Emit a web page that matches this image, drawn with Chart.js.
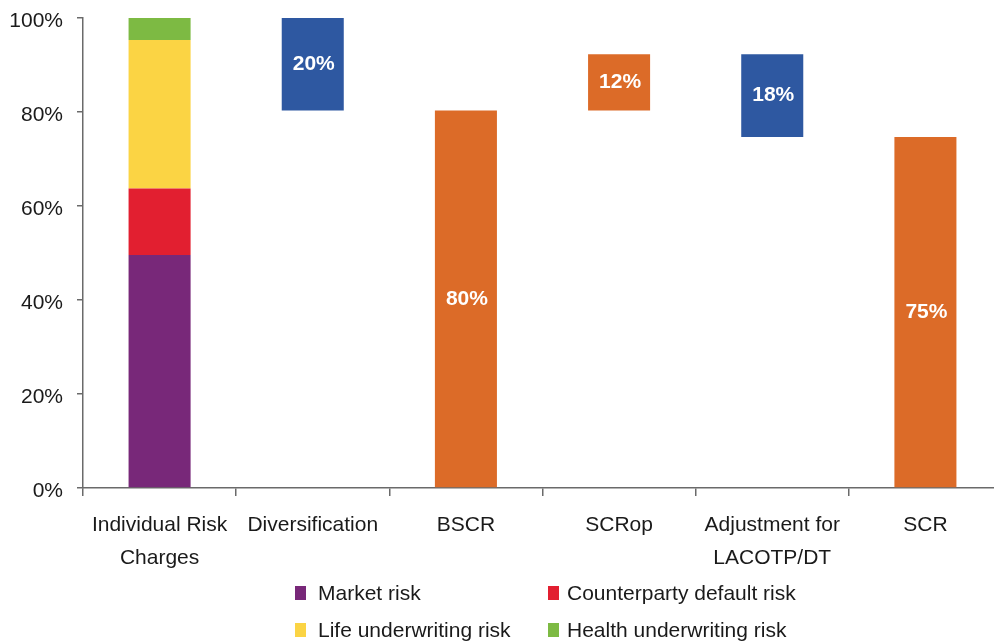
<!DOCTYPE html>
<html>
<head>
<meta charset="utf-8">
<script src="https://cdn.jsdelivr.net/npm/chart.js@4/dist/chart.umd.min.js"></script>
<style>
  html, body { margin: 0; padding: 0; background: #ffffff; }
  #wrap { position: relative; width: 994px; height: 641px; overflow: hidden; }
  #chartBox { position: absolute; left: 0; top: 0; width: 1003px; height: 641px; }
  #legend { position: absolute; left: 0; top: 0; width: 994px; height: 641px; pointer-events: none;
            font-family: "Liberation Sans", Arial, sans-serif; font-size: 21px; color: #1a1a1a; }
  .li { position: absolute; white-space: nowrap; height: 24px; line-height: 24px; }
  .sw { position: absolute; width: 11px; height: 14px; top: 5px; left: 0; }
  .tx { position: absolute; top: 0; }
</style>
</head>
<body>
<div id="wrap">
  <div id="chartBox"><canvas id="c" width="1003" height="641"></canvas></div>
  <div id="legend"></div>
</div>
<script>
// ---- data ----
const categories = [["Individual Risk", "Charges"], "Diversification", "BSCR", "SCRop", ["Adjustment for", "LACOTP/DT"], "SCR"];
const riskLabels = ["Market risk", "Counterparty default risk", "Life underwriting risk", "Health underwriting risk"];
const riskValues = [49.6, 14.1, 31.6, 4.7];           // % of individual risk charges
const riskColors = ["#782879", "#E21F30", "#FBD444", "#7DBA43"];
const stepChanges = [null, -19.7, null, 12.0, -17.6, null];   // waterfall movements
const subtotals = [null, null, 80.3, null, null, 74.7];        // totals drawn from 0
const yTicks = [0, 20, 40, 60, 80, 100];

const blue = "#2E58A1";
const orange = "#DC6B28";

// ---- build floating ranges ----
const riskData = [];
let acc = 0;
riskValues.forEach((v, i) => {
  const arr = categories.map(() => null);
  arr[0] = [acc, acc + v];
  acc += v;
  riskData.push(arr);
});
const blueData = categories.map(() => null);
const orangeData = categories.map(() => null);
const labelMap = {};
let running = acc;
for (let i = 1; i < categories.length; i++) {
  if (subtotals[i] !== null) {
    orangeData[i] = [0, subtotals[i]];
    running = subtotals[i];
    labelMap[i] = Math.round(subtotals[i]) + "%";
  } else if (stepChanges[i] !== null) {
    const d = stepChanges[i];
    const rng = d < 0 ? [running + d, running] : [running, running + d];
    if (d < 0) blueData[i] = rng; else orangeData[i] = rng;
    running += d;
    labelMap[i] = Math.round(Math.abs(d)) + "%";
  }
}

const datasets = riskLabels.map((l, i) => ({
  label: l, data: riskData[i], backgroundColor: riskColors[i], isRisk: true
}));
datasets.push({ label: "decrease", data: blueData, backgroundColor: blue, waterfall: true });
datasets.push({ label: "increase", data: orangeData, backgroundColor: orange, waterfall: true });
datasets.forEach(d => { d.barPercentage = 0.405; d.categoryPercentage = 1.0; d.borderWidth = 0; });

// ---- value labels plugin ----
const valueLabels = {
  id: "valueLabels",
  afterDatasetsDraw(chart) {
    const ctx = chart.ctx;
    ctx.save();
    ctx.font = "bold 21px 'Liberation Sans', Arial, sans-serif";
    ctx.fillStyle = "#ffffff";
    ctx.textAlign = "center";
    ctx.textBaseline = "middle";
    chart.data.datasets.forEach((ds, di) => {
      if (!ds.waterfall) return;
      const meta = chart.getDatasetMeta(di);
      meta.data.forEach((el, idx) => {
        if (ds.data[idx] === null || !labelMap[idx]) return;
        const p = el.getProps(["x", "y", "base"], true);
        ctx.fillText(labelMap[idx], p.x + 1, (p.y + p.base) / 2);
      });
    });
    ctx.restore();
  }
};

Chart.defaults.font.family = "'Liberation Sans', Arial, sans-serif";
Chart.defaults.font.size = 21;
Chart.defaults.color = "#1a1a1a";

const axisColor = "#6a6a6a";

new Chart(document.getElementById("c"), {
  type: "bar",
  data: { labels: categories, datasets: datasets },
  options: {
    responsive: false,
    animation: false,
    layout: { padding: { top: 18, right: 1, bottom: 60, left: 0 } },
    plugins: { legend: { display: false }, tooltip: { enabled: false } },
    scales: {
      x: {
        stacked: true,
        grid: { display: true, drawOnChartArea: false, drawTicks: true, tickLength: 8, color: axisColor, lineWidth: 1.5, offset: true },
        border: { display: true, color: axisColor, width: 1.5 },
        ticks: { padding: 13, maxRotation: 0, autoSkip: false, color: "#1a1a1a", font: { size: 21, lineHeight: 1.55 } },
        afterFit(s) { s.height = 93; s.paddingLeft = 0; s.paddingRight = 0; }
      },
      y: {
        stacked: false,
        min: 0, max: 100,
        afterBuildTicks(s) { s.ticks = yTicks.map(v => ({ value: v })); },
        grid: { display: true, drawOnChartArea: false, drawTicks: true, tickLength: 6, color: axisColor, lineWidth: 1.5 },
        border: { display: true, color: axisColor, width: 1.5 },
        ticks: { padding: 14, labelOffset: 3, color: "#1a1a1a", callback: v => v + "%", font: { size: 21 } },
        afterFit(s) { s.width = 83; s.paddingTop = 0; s.paddingBottom = 0; }
      }
    }
  },
  plugins: [valueLabels]
});

// ---- HTML legend (two columns) ----
const legend = document.getElementById("legend");
const colX = [295, 548];
const textX = [23, 19];
const rowY = [581, 618];
riskLabels.forEach((l, i) => {
  const col = i % 2, row = Math.floor(i / 2);
  const item = document.createElement("div");
  item.className = "li";
  item.style.left = colX[col] + "px";
  item.style.top = rowY[row] + "px";
  const sw = document.createElement("div");
  sw.className = "sw";
  sw.style.background = riskColors[i];
  const tx = document.createElement("div");
  tx.className = "tx";
  tx.style.left = textX[col] + "px";
  tx.textContent = l;
  item.appendChild(sw);
  item.appendChild(tx);
  legend.appendChild(item);
});
</script>
</body>
</html>
